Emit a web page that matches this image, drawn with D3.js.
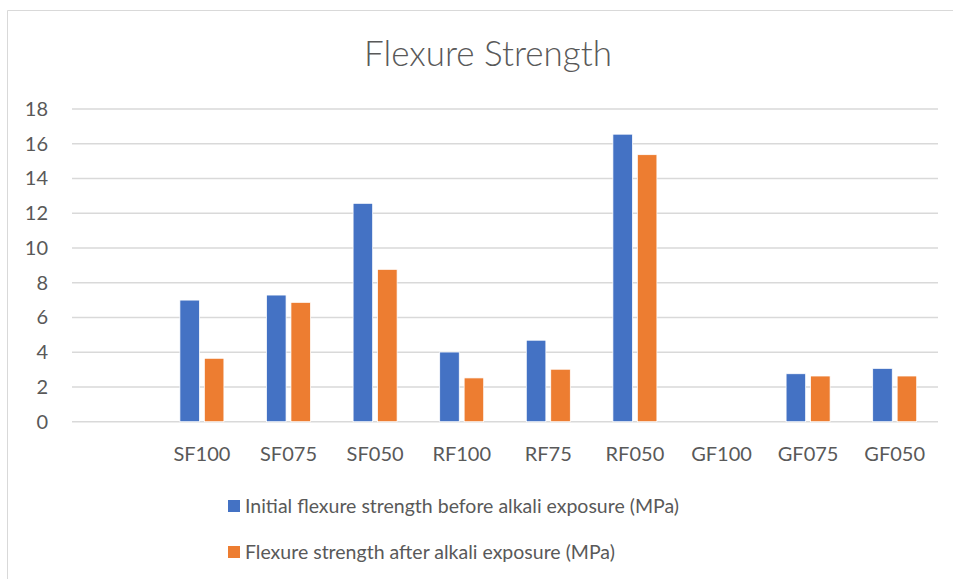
<!DOCTYPE html>
<html>
<head>
<meta charset="utf-8">
<script src="https://cdn.jsdelivr.net/npm/d3@7"></script>
<style>
  html, body { margin: 0; padding: 0; background: #fff; }
  svg { display: block; font-family: Lato, "Open Sans", sans-serif; }
</style>
</head>
<body>
<svg id="chart" width="953" height="579"></svg>
<script>
// Specimen groups (the first slot is left blank on the axis)
const categories = ["", "SF100", "SF075", "SF050", "RF100", "RF75", "RF050", "GF100", "GF075", "GF050"];
const seriesNames = [
  "Initial flexure strength before alkali exposure (MPa)",
  "Flexure strength after alkali exposure (MPa)"
];
const initialStrength = [null, 7.0, 7.29, 12.57, 4.01, 4.69, 16.55, null, 2.76, 3.07];
const afterAlkali    = [null, 3.65, 6.87, 8.77, 2.52, 3.02, 15.37, null, 2.63, 2.63];
const yTicks = [0, 2, 4, 6, 8, 10, 12, 14, 16, 18];
const colors = ["#4472C4", "#ED7D31"];

const svg = d3.select("#chart");
const W = 953, H = 579;
const plot = { left: 72, right: 938, top: 109, bottom: 421.7 };

// chart frame
svg.append("path")
  .attr("d", `M7.5,${H} L7.5,10.5 L${W},10.5`)
  .attr("fill", "none")
  .attr("stroke", "#d9d9d9")
  .attr("stroke-width", 1);

svg.append("text")
  .attr("x", 488).attr("y", 66)
  .attr("text-anchor", "middle")
  .attr("font-size", 35)
  .attr("font-weight", 300)
  .attr("fill", "#595959")
  .text("Flexure Strength");

const x = d3.scaleBand().domain(categories).range([plot.left, plot.right]).padding(0);
const y = d3.scaleLinear().domain([0, 18]).range([plot.bottom, plot.top]);

// gridlines
svg.append("g").selectAll("line").data(yTicks).join("line")
  .attr("x1", plot.left).attr("x2", plot.right)
  .attr("y1", d => y(d)).attr("y2", d => y(d))
  .attr("stroke", "#d9d9d9").attr("stroke-width", 1.5);

// y axis labels
const yAxis = d3.axisLeft(y).tickValues(yTicks).tickSize(0).tickPadding(0);
const gy = svg.append("g").attr("transform", `translate(48,0)`).call(yAxis);
gy.select(".domain").remove();
gy.selectAll("text").attr("font-size", 20).attr("fill", "#595959").attr("font-family", "Lato, sans-serif");

// x axis labels
const xAxis = d3.axisBottom(x).tickSize(0).tickPadding(0);
const gx = svg.append("g").attr("transform", `translate(0,${plot.bottom + 25})`).call(xAxis);
gx.select(".domain").remove();
gx.selectAll("text").attr("font-size", 20).attr("fill", "#595959").attr("font-family", "Lato, sans-serif");

// bars
const inner = d3.scaleBand().domain([0, 1]).range([-22, 22]).paddingInner(0.2).paddingOuter(0);
const seriesData = [initialStrength, afterAlkali];
seriesData.forEach((vals, si) => {
  svg.append("g").selectAll("rect")
    .data(categories.map((c, i) => ({ c, v: vals[i] })).filter(d => d.v != null))
    .join("rect")
    .attr("x", d => x(d.c) + x.bandwidth() / 2 + inner(si))
    .attr("width", inner.bandwidth())
    .attr("y", d => y(d.v))
    .attr("height", d => y(0) - y(d.v))
    .attr("fill", colors[si])
    .attr("stroke", "#ffffff")
    .attr("stroke-width", 0.75);
});

// legend
const legend = svg.append("g");
seriesNames.forEach((name, i) => {
  const cy = 506 + i * 46;
  legend.append("rect")
    .attr("x", 228).attr("y", cy - 6).attr("width", 12).attr("height", 12)
    .attr("fill", colors[i]);
  legend.append("text")
    .attr("x", 245).attr("y", cy).attr("dy", "0.35em")
    .attr("font-size", 19.5).attr("fill", "#595959")
    .text(name);
});
</script>
</body>
</html>
